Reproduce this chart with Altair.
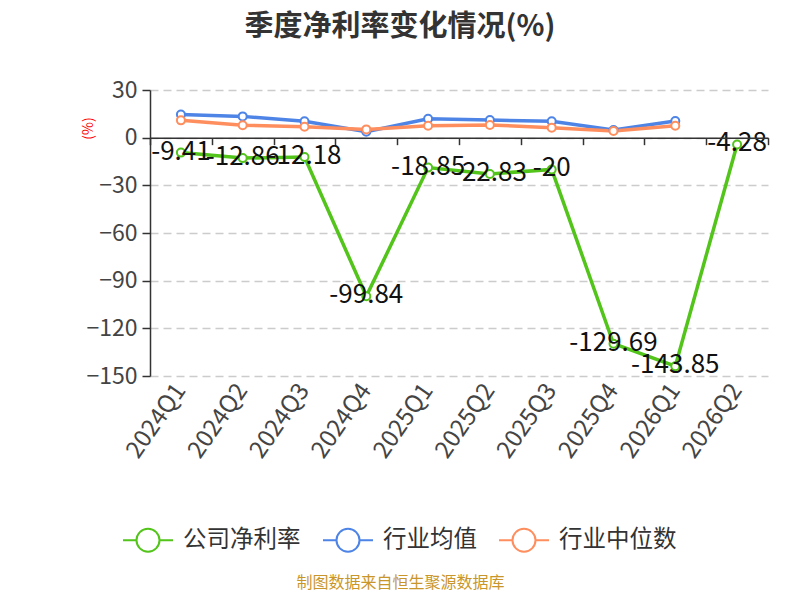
import altair as alt
import pandas as pd

quarters = ["2024Q1", "2024Q2", "2024Q3", "2024Q4", "2025Q1",
            "2025Q2", "2025Q3", "2025Q4", "2026Q1", "2026Q2"]
company = [-9.41, -12.86, -12.18, -99.84, -18.85, -22.83, -20, -129.69, -143.85, -4.28]
ind_avg = [14.6, 13.4, 10.3, 3.8, 11.9, 11.1, 10.3, 4.8, 10.5, None]
ind_med = [10.9, 7.8, 6.9, 5.2, 7.5, 8.0, 6.3, 4.2, 7.5, None]
series_names = ["公司净利率", "行业均值", "行业中位数"]
colors = ["#52c41a", "#4e84e6", "#ff8e5e"]
y_ticks = [30, 0, -30, -60, -90, -120, -150]

rows = []
for name, vals in zip(series_names, [company, ind_avg, ind_med]):
    for q, v in zip(quarters, vals):
        if v is not None:
            rows.append({"quarter": q, "series": name, "value": v})
df = pd.DataFrame(rows)
comp_df = pd.DataFrame({"quarter": quarters, "value": company,
                        "label": [f"{v:g}" for v in company]})

W, H = 618, 286
ymin, ymax = -150, 30
zero_offset = -(H - H * (ymax - 0) / (ymax - ymin))

FONT = "Noto Sans CJK SC"

xscale = alt.Scale(type="band", domain=quarters, paddingInner=0, paddingOuter=0)
yscale = alt.Scale(domain=[ymin, ymax], nice=False, zero=False)

y_axis = alt.Axis(values=y_ticks, grid=True, gridDash=[8, 5], gridColor="#cccccc",
                  gridWidth=1.5, domainColor="#333333", domainWidth=1.5,
                  tickColor="#333333", tickSize=8, tickWidth=1.5,
                  labelFontSize=23, labelColor="#444444", labelPadding=5, labelFont=FONT,
                  title="(%)", titleColor="#ff0000", titleFontSize=14,
                  titleFontWeight="normal", titleX=-62, titleY=38,
                  titleAlign="center", titleBaseline="middle", titleFont=FONT)
Y = alt.Y("value:Q", scale=yscale, axis=y_axis)

label_axis = alt.Axis(orient="bottom", domain=False, ticks=False, grid=False,
                      labelAngle=-55, labelFontSize=24, labelColor="#444444",
                      labelPadding=10, labelAlign="right", labelBaseline="middle",
                      labelFont=FONT,
                      title="制图数据来自恒生聚源数据库", titleColor="#c9962b",
                      titleFontSize=16, titleFontWeight="normal", titleFont=FONT,
                      titleX=250, titleY=206, titleAlign="center",
                      titleBaseline="middle", titleAnchor="start")
zero_axis = alt.Axis(orient="bottom", offset=zero_offset, labels=False, title=None,
                     domain=True, domainColor="#333333", domainWidth=1.5,
                     ticks=True, tickBand="extent", tickColor="#333333",
                     tickSize=7, tickWidth=1.5, grid=False, zindex=1)

sym_path = ("M-1,0L-0.46,0M0.46,0L1,0M0.46,0A0.46,0.46,0,1,1,-0.46,0"
            "A0.46,0.46,0,1,1,0.46,0")
legend = alt.Legend(orient="none", legendX=-28, legendY=424, direction="horizontal",
                    title=None, labelFontSize=23.5, labelColor="#333333", labelFont=FONT,
                    symbolType=sym_path, symbolSize=2500, symbolStrokeWidth=2,
                    symbolFillColor="white", columnPadding=18, labelOffset=9,
                    padding=0)
stroke_scale = alt.Scale(domain=series_names, range=colors)

lines = alt.Chart(df).mark_line(strokeWidth=3.5).encode(
    x=alt.X("quarter:N", scale=xscale, sort=quarters, axis=label_axis),
    y=Y,
    stroke=alt.Stroke("series:N", scale=stroke_scale, legend=legend),
)
points = alt.Chart(df).mark_point(filled=True, fill="white", size=64,
                                  strokeWidth=2, opacity=1).encode(
    x=alt.X("quarter:N", scale=xscale, sort=quarters, axis=zero_axis),
    y=Y,
    stroke=alt.Stroke("series:N", scale=stroke_scale, legend=legend),
)
texts = alt.Chart(comp_df).mark_text(fontSize=26, color="#111111", dy=-1,
                                     font=FONT).encode(
    x=alt.X("quarter:N", scale=xscale, sort=quarters, axis=None),
    y=Y,
    text="label:N",
)

chart = alt.layer(lines, points, texts).resolve_axis(x="independent").properties(
    width=W, height=H,
    autosize=alt.AutoSizeParams(type="none"),
    padding={"left": 142, "top": 82, "right": 24, "bottom": 216},
    title=alt.TitleParams("季度净利率变化情况(%)", fontSize=29, fontWeight="bold",
                          color="#333333", anchor="middle", dx=-59, offset=37,
                          font=FONT),
).configure(font=FONT, view=alt.ViewConfig(stroke=None))

chart.save("out.html", embed_options={"renderer": "svg", "actions": False})
